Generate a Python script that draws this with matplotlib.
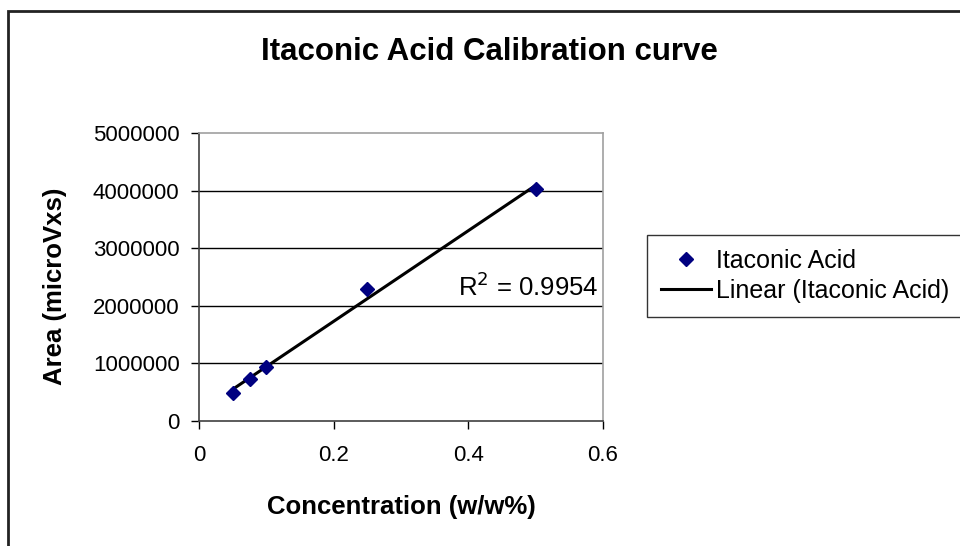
import numpy as np
import matplotlib
matplotlib.use('Agg')
import matplotlib.pyplot as plt
from matplotlib.lines import Line2D
from matplotlib.patches import Rectangle

# Dati
concentration = [0.05, 0.075, 0.1, 0.25, 0.5]
area = [490000, 725000, 930000, 2290000, 4020000]
r2_label = 'R$^2$ = 0.9954'
y_ticks = [0, 1000000, 2000000, 3000000, 4000000, 5000000]
x_ticks = [0, 0.2, 0.4, 0.6]

plt.rcParams['font.family'] = ['Liberation Sans', 'DejaVu Sans']
fs = 18

fig = plt.figure(figsize=(9.6, 5.46), dpi=100)
ax = fig.add_axes([199 / 960, 1 - 421 / 546, 404 / 960, 288 / 546])

# Bordo esterno del grafico
fig.patches.append(Rectangle((8 / 960, -0.1), 1.2, 1.1 - 11 / 546, transform=fig.transFigure,
                             fill=False, edgecolor='#222222', linewidth=2))

# Griglia orizzontale
for t in y_ticks[1:-1]:
    ax.axhline(t, color='black', linewidth=1, zorder=1)

# Retta di regressione lineare
slope, intercept = np.polyfit(concentration, area, 1)
xs = np.array([min(concentration), max(concentration)])
ax.plot(xs, slope * xs + intercept, color='black', linewidth=2.2, zorder=2)

ax.plot(concentration, area, linestyle='none', marker='D', markersize=7,
        color='#000080', zorder=3)

ax.text(0.593, 2330000, r2_label, ha='right', va='center', fontsize=18.5)

ax.set_xlim(0, 0.6)
ax.set_ylim(0, 5000000)
ax.set_xticks(x_ticks)
ax.set_xticklabels(['0', '0.2', '0.4', '0.6'])
ax.set_yticks(y_ticks)
ax.set_yticklabels([str(t) for t in y_ticks])
ax.tick_params(direction='out', length=6, width=1, labelsize=16, colors='black')
ax.tick_params(axis='x', pad=11)
ax.tick_params(axis='y', pad=8)

for side in ['top', 'right']:
    ax.spines[side].set_color('#a0a0a0')
    ax.spines[side].set_linewidth(1.2)
for side in ['left', 'bottom']:
    ax.spines[side].set_color('#404040')
    ax.spines[side].set_linewidth(1.2)

ax.set_xlabel('Concentration (w/w%)', fontsize=fs + 0.5, fontweight='bold')
ax.set_ylabel('Area (microVxs)', fontsize=fs + 0.5, fontweight='bold')
ax.xaxis.set_label_coords(0.5, (421 - 507) / 288)
ax.xaxis.label.set_va('center')
ax.yaxis.set_label_coords((55 - 199) / 404, (421 - 286) / 288)
ax.yaxis.label.set_va('center')

fig.text(489 / 960, 1 - 52 / 546, 'Itaconic Acid Calibration curve',
         ha='center', va='center', fontsize=22.5, fontweight='bold')

handles = [Line2D([], [], linestyle='none', marker='D', markersize=7, color='#000080'),
           Line2D([], [], color='black', linewidth=2.2)]
labels = ['Itaconic Acid', 'Linear (Itaconic Acid)']
leg = fig.legend(handles, labels, loc='upper left', bbox_to_anchor=(647 / 960, 1 - 235 / 546),
                 frameon=True, fancybox=False, edgecolor='black', fontsize=fs,
                 handlelength=2.0, handletextpad=0.2, borderpad=0.55, borderaxespad=0,
                 labelspacing=0.25)
leg.get_frame().set_linewidth(1)

fig.savefig('out.png', dpi=100)
